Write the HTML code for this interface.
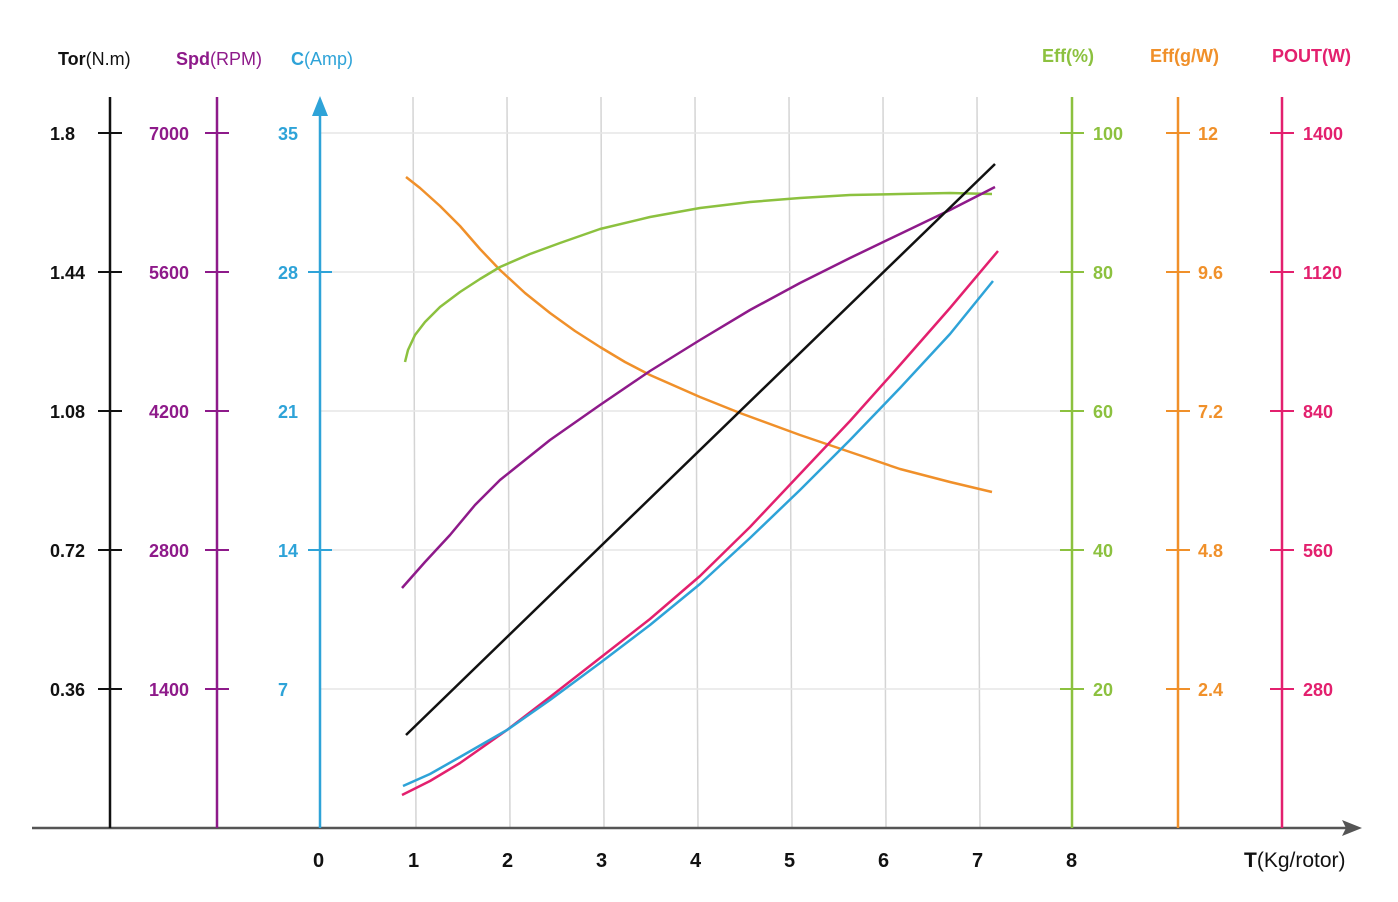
<!DOCTYPE html>
<html><head><meta charset="utf-8"><style>
html,body{margin:0;padding:0;background:#fff}
svg{display:block;font-family:"Liberation Sans",sans-serif}
.b{font-weight:bold}
</style></head><body>
<svg width="1398" height="902" viewBox="0 0 1398 902">
<g stroke="#d4d4d4" stroke-width="1.5">
<line x1="413" y1="97" x2="416" y2="828"/><line x1="507" y1="97" x2="510" y2="828"/>
<line x1="601" y1="97" x2="604" y2="828"/><line x1="695" y1="97" x2="698" y2="828"/>
<line x1="789" y1="97" x2="792" y2="828"/><line x1="883" y1="97" x2="886" y2="828"/>
<line x1="977" y1="97" x2="980" y2="828"/>
</g>
<g stroke="#e6e6e6" stroke-width="1.5">
<line x1="320" y1="133" x2="1072" y2="133"/><line x1="320" y1="272" x2="1072" y2="272"/>
<line x1="320" y1="411" x2="1072" y2="411"/><line x1="320" y1="550" x2="1072" y2="550"/>
<line x1="320" y1="689" x2="1072" y2="689"/>
</g>
<line x1="32" y1="828" x2="1350" y2="828" stroke="#555" stroke-width="2.5"/>
<polygon points="1362,828 1342,820 1346,828 1342,836" fill="#555"/>
<g stroke-width="2.5">
<line x1="110" y1="97" x2="110" y2="828" stroke="#111"/>
<line x1="217" y1="97" x2="217" y2="828" stroke="#8e1a8a"/>
<line x1="320" y1="110" x2="320" y2="828" stroke="#2ea3d8"/>
<line x1="1072" y1="97" x2="1072" y2="828" stroke="#8cc13f"/>
<line x1="1178" y1="97" x2="1178" y2="828" stroke="#f0902a"/>
<line x1="1282" y1="97" x2="1282" y2="828" stroke="#e3206e"/>
</g>
<polygon points="320,96 312,116 328,116" fill="#2ea3d8"/>
<g stroke-width="2">
<g stroke="#111"><line x1="98" x2="122" y1="133" y2="133"/><line x1="98" x2="122" y1="272" y2="272"/><line x1="98" x2="122" y1="411" y2="411"/><line x1="98" x2="122" y1="550" y2="550"/><line x1="98" x2="122" y1="689" y2="689"/></g>
<g stroke="#8e1a8a"><line x1="205" x2="229" y1="133" y2="133"/><line x1="205" x2="229" y1="272" y2="272"/><line x1="205" x2="229" y1="411" y2="411"/><line x1="205" x2="229" y1="550" y2="550"/><line x1="205" x2="229" y1="689" y2="689"/></g>
<g stroke="#2ea3d8"><line x1="308" x2="332" y1="272" y2="272"/><line x1="308" x2="332" y1="550" y2="550"/></g>
<g stroke="#8cc13f"><line x1="1060" x2="1084" y1="133" y2="133"/><line x1="1060" x2="1084" y1="272" y2="272"/><line x1="1060" x2="1084" y1="411" y2="411"/><line x1="1060" x2="1084" y1="550" y2="550"/><line x1="1060" x2="1084" y1="689" y2="689"/></g>
<g stroke="#f0902a"><line x1="1166" x2="1190" y1="133" y2="133"/><line x1="1166" x2="1190" y1="272" y2="272"/><line x1="1166" x2="1190" y1="411" y2="411"/><line x1="1166" x2="1190" y1="550" y2="550"/><line x1="1166" x2="1190" y1="689" y2="689"/></g>
<g stroke="#e3206e"><line x1="1270" x2="1294" y1="133" y2="133"/><line x1="1270" x2="1294" y1="272" y2="272"/><line x1="1270" x2="1294" y1="411" y2="411"/><line x1="1270" x2="1294" y1="550" y2="550"/><line x1="1270" x2="1294" y1="689" y2="689"/></g>
</g>
<g font-size="18">
<text x="58" y="65" fill="#111"><tspan class="b">Tor</tspan>(N.m)</text>
<text x="176" y="65" fill="#8e1a8a"><tspan class="b">Spd</tspan>(RPM)</text>
<text x="291" y="65" fill="#2ea3d8"><tspan class="b">C</tspan>(Amp)</text>
<text x="1042" y="62" fill="#8cc13f" class="b">Eff(%)</text>
<text x="1150" y="62" fill="#f0902a" class="b">Eff(g/W)</text>
<text x="1272" y="62" fill="#e3206e" class="b">POUT(W)</text>
</g>
<g font-size="18" class="b">
<g fill="#111"><text x="50" y="140">1.8</text><text x="50" y="279">1.44</text><text x="50" y="418">1.08</text><text x="50" y="557">0.72</text><text x="50" y="696">0.36</text></g>
<g fill="#8e1a8a"><text x="149" y="140">7000</text><text x="149" y="279">5600</text><text x="149" y="418">4200</text><text x="149" y="557">2800</text><text x="149" y="696">1400</text></g>
<g fill="#2ea3d8"><text x="278" y="140">35</text><text x="278" y="279">28</text><text x="278" y="418">21</text><text x="278" y="557">14</text><text x="278" y="696">7</text></g>
<g fill="#8cc13f"><text x="1093" y="140">100</text><text x="1093" y="279">80</text><text x="1093" y="418">60</text><text x="1093" y="557">40</text><text x="1093" y="696">20</text></g>
<g fill="#f0902a"><text x="1198" y="140">12</text><text x="1198" y="279">9.6</text><text x="1198" y="418">7.2</text><text x="1198" y="557">4.8</text><text x="1198" y="696">2.4</text></g>
<g fill="#e3206e"><text x="1303" y="140">1400</text><text x="1303" y="279">1120</text><text x="1303" y="418">840</text><text x="1303" y="557">560</text><text x="1303" y="696">280</text></g>
<g fill="#111" font-size="20"><text x="313" y="867">0</text><text x="408" y="867">1</text><text x="502" y="867">2</text><text x="596" y="867">3</text><text x="690" y="867">4</text><text x="784" y="867">5</text><text x="878" y="867">6</text><text x="972" y="867">7</text><text x="1066" y="867">8</text></g>
</g>
<text x="1244" y="867" font-size="21" fill="#111"><tspan class="b">T</tspan>(Kg/rotor)</text>
<g fill="none" stroke-width="2.5" stroke-linejoin="round">
<polyline stroke="#f0902a" points="406,177 420,188 440,206 460,226 480,249 500,270 525,293 550,313 575,331 600,347 625,362 650,375 700,397 740,413 800,435 850,452 900,469 950,482 992,492"/>
<polyline stroke="#8cc13f" points="405,362 408,350 415,335 425,322 440,307 460,292 480,279 500,267 530,254 560,243 600,229 650,217 700,208 750,202 800,198 850,195 900,194 950,193 992,194"/>
<polyline stroke="#8e1a8a" points="402,588 425,562 450,535 475,505 500,480 550,440 600,405 650,371 700,340 750,310 800,283 850,258 900,234 950,210 995,187"/>
<line stroke="#111" x1="406" y1="735" x2="995" y2="164"/>
<polyline stroke="#e3206e" points="402,795 430,781 460,763 507,730 550,697 600,658 650,619 700,576 750,527 800,474 850,421 900,365 950,308 998,251"/>
<polyline stroke="#2ea3d8" points="403,786 430,774 460,757 507,730 550,700 600,663 650,625 700,584 750,538 800,490 850,440 900,388 950,334 993,281"/>
</g>
</svg>
</body></html>
